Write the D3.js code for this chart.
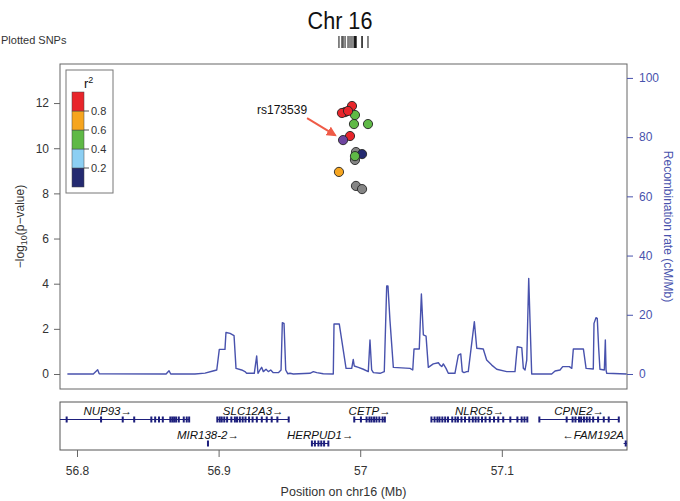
<!DOCTYPE html>
<html>
<head>
<meta charset="utf-8">
<script src="https://cdn.jsdelivr.net/npm/d3@7"></script>
<style>
  body { margin: 0; background: #fff; }
  svg { font-family: "Liberation Sans", Arial, Helvetica, sans-serif; }
</style>
</head>
<body>
<svg id="chart" width="680" height="501"></svg>
<script>
// ---- data ----
const chrom = "16";
const leadSnp = "rs173539";

// plotted SNPs (position Mb, -log10 p, r2 ; null r2 = no LD info)
const snpPos  = [56.9970, 56.9963, 56.9970, 57.0013, 56.9850, 57.0013, 56.9963, 56.9956, 57.0055, 56.9963,
                 56.9928, 56.9871, 56.9893, 56.9914, 56.9942, 56.9879];
const snpLogP = [9.83, 9.48, 8.33, 9.74, 8.95, 8.19, 9.65, 11.07, 11.07, 11.47,
                 10.54, 11.56, 11.60, 11.65, 11.87, 10.36];
const snpR2   = [null, null, null, 0.1, 0.7, null, 0.45, 0.45, 0.5, 0.5,
                 0.85, 0.9, 0.85, 0.95, 0.9, 1];
const leadIndex = 15;

// recombination rate (cM/Mb)
const recombPos = [56.7932, 56.8115, 56.8146, 56.8157, 56.8629, 56.8650, 56.8662, 56.8833, 56.8904, 56.8960,
  56.8987, 56.9005, 56.9045, 56.9052, 56.9081, 56.9109, 56.9123, 56.9163, 56.9186, 56.9198,
  56.9252, 56.9269, 56.9278, 56.9292, 56.9304, 56.9316, 56.9335, 56.9351, 56.9368, 56.9386,
  56.9422, 56.9441, 56.9450, 56.9462, 56.9474, 56.9488, 56.9504, 56.9528, 56.9645, 56.9669,
  56.9693, 56.9739, 56.9810, 56.9815, 56.9852, 56.9900, 56.9940, 56.9951, 56.9958, 56.9987,
  57.0022, 57.0057, 57.0069, 57.0081, 57.0093, 57.0140, 57.0170, 57.0187, 57.0196, 57.0210,
  57.0234, 57.0352, 57.0371, 57.0380, 57.0417, 57.0432, 57.0446, 57.0465, 57.0481, 57.0516,
  57.0552, 57.0564, 57.0576, 57.0587, 57.0606, 57.0622, 57.0669, 57.0693, 57.0710, 57.0721,
  57.0733, 57.0752, 57.0763, 57.0806, 57.0823, 57.0869, 57.0893, 57.0929, 57.0964, 57.1035,
  57.1093, 57.1109, 57.1141, 57.1152, 57.1164, 57.1176, 57.1190, 57.1199, 57.1211, 57.1352,
  57.1376, 57.1411, 57.1430, 57.1477, 57.1494, 57.1505, 57.1576, 57.1595, 57.1646, 57.1651,
  57.1665, 57.1674, 57.1684, 57.1693, 57.1724, 57.1731, 57.1736, 57.1741, 57.1882];
const recombRate = [0, 0, 1.4, 0.1, 0, 1.1, 0, 0, 0.3, 1.0,
  1.35, 8.3, 8.3, 14.0, 13.7, 12.95, 1.9, 1.35, 0.8, 0.23,
  0.23, 6.1, 0.23, 1.35, 2.25, 0.8, 1.6, 0.8, 1.35, 0.45,
  0.45, 1.35, 17.3, 17.1, 1.35, 0.1, 0.23, 0, 0.23, 0.8,
  0.45, 0.1, 0, 16.9, 16.9, 1.9, 1.9, 4.9, 2.7, 2.25,
  1.6, 0.8, 11.5, 1.35, 0.45, 0.23, 0.8, 29.7, 29.7, 18.2,
  2.25, 1.9, 1.35, 8.45, 8.45, 27.0, 13.2, 12.8, 2.25, 3.4,
  3.8, 3.0, 2.5, 3.4, 1.9, 0.23, 0.23, 6.4, 6.8, 0.8,
  0.45, 0.8, 0.8, 17.7, 8.7, 8.45, 4.7, 3.0, 1.6, 0.8,
  0.8, 9.2, 8.9, 1.9, 1.35, 4.7, 32.3, 18.2, 0, 0,
  1.0, 1.35, 2.5, 2.5, 1.9, 8.45, 8.45, 1.9, 1.7, 17.1,
  19.0, 18.8, 8.7, 1.6, 1.35, 11.5, 1.35, 0.23, 0];

// genes: name, start, end, strand, row
const geneNames  = ["NUP93", "SLC12A3", "CETP", "NLRC5", "CPNE2", "MIR138-2", "HERPUD1", "FAM192A"];
const geneStart  = [56.7640, 56.8991, 56.9958, 57.0503, 57.1265, 56.8924, 56.9659, 57.1860];
const geneEnd    = [56.8794, 56.9498, 57.0176, 57.1183, 57.1828, 56.8926, 56.9777, 57.2190];
const geneStrand = ["+", "+", "+", "+", "+", "+", "+", "-"];
const geneRow    = [0, 0, 0, 0, 0, 1, 1, 1];
const geneExons  = [
  [56.7927, 56.8170, 56.8323, 56.8404, 56.8525, 56.8552, 56.8579, 56.8606, 56.8659, 56.8673, 56.8686, 56.8700, 56.8719, 56.8754, 56.8775, 56.8792],
  [56.8991, 56.9008, 56.9022, 56.9040, 56.9060, 56.9090, 56.9115, 56.9130, 56.9150, 56.9170, 56.9190, 56.9215, 56.9240, 56.9270, 56.9305, 56.9340, 56.9375, 56.9415, 56.9495],
  [56.9958, 57.0005, 57.0045, 57.0065, 57.0080, 57.0098, 57.0115, 57.0135, 57.0158, 57.0174],
  [57.0503, 57.0525, 57.0545, 57.0560, 57.0580, 57.0600, 57.0620, 57.0650, 57.0672, 57.0690, 57.0715, 57.0740,
   57.0770, 57.0795, 57.0815, 57.0835, 57.0860, 57.0885, 57.0915, 57.0945, 57.0975, 57.1010, 57.1060, 57.1110, 57.1140, 57.1160, 57.1180],
  [57.1265, 57.1458, 57.1500, 57.1520, 57.1545, 57.1560, 57.1580, 57.1600, 57.1620, 57.1645, 57.1680, 57.1720, 57.1755, 57.1826],
  [56.8925],
  [56.9659, 56.9680, 56.9705, 56.9725, 56.9745, 56.9775],
  [57.1875]
];

// LD legend
const ldBreaks = [0, 0.2, 0.4, 0.6, 0.8, 1];
const ldColors = ["#242a70", "#8ccff3", "#5fb946", "#f6a51f", "#e8252b"];
const leadColor = "#6e45a0";
const noLdColor = "#858585";

// axis ticks
const xTicks = [56.8, 56.9, 57, 57.1];
const yTicks = [0, 2, 4, 6, 8, 10, 12];
const recombTicks = [0, 20, 40, 60, 80, 100];
const legendTicks = [0.2, 0.4, 0.6, 0.8];

// ---- layout ----
const svg = d3.select("#chart");
const plot = { left: 60, right: 627, top: 64, bottom: 389 };
const genePanel = { top: 402, bottom: 450 };
const recombColor = "#4852ad";
const textColor = "#333";

let x = d3.scaleLinear().domain([56.788, 57.1884]).range([plot.left, plot.right]);
let yLeft = d3.scaleLinear().domain([-0.664, 13.73]).range([plot.bottom, plot.top]);
let yRight = d3.scaleLinear().domain([-5.07, 104.7]).range([plot.bottom, plot.top]);

function ldColor(r2, i) {
    if (i === leadIndex) return leadColor;
    if (r2 === null) return noLdColor;
    let k = d3.bisectRight(ldBreaks, r2) - 1;
    return ldColors[Math.min(k, ldColors.length - 1)];
}

let defs = svg.append("defs");
defs.append("clipPath").attr("id", "plotClip").append("rect")
    .attr("x", plot.left).attr("y", plot.top)
    .attr("width", plot.right - plot.left).attr("height", plot.bottom - plot.top);
defs.append("clipPath").attr("id", "geneClip").append("rect")
    .attr("x", plot.left).attr("y", genePanel.top)
    .attr("width", plot.right - plot.left).attr("height", genePanel.bottom - genePanel.top);
defs.append("marker").attr("id", "arrowHead")
    .attr("viewBox", "0 0 10 10").attr("refX", 8).attr("refY", 5)
    .attr("markerWidth", 5).attr("markerHeight", 5).attr("orient", "auto")
    .append("path").attr("d", "M0,0 L10,5 L0,10 z").attr("fill", "#ef5b47");

// title
svg.append("text").attr("x", 340).attr("y", 29).attr("text-anchor", "middle")
    .attr("font-size", 24).attr("fill", "#111")
    .attr("transform", "translate(340,0) scale(0.9,1) translate(-340,0)")
    .text("Chr " + chrom);

svg.append("text").attr("x", 1).attr("y", 44).attr("font-size", 11).attr("fill", textColor)
    .text("Plotted SNPs");

// rug of plotted SNPs
svg.append("g").selectAll("line").data(snpPos).enter().append("line")
    .attr("x1", d => x(d)).attr("x2", d => x(d))
    .attr("y1", 36).attr("y2", 48)
    .attr("stroke", "#111").attr("stroke-width", 1);

// ---- main panel ----
let g = svg.append("g");

// recombination line
let line = d3.line().x(d => x(d[0])).y(d => yRight(d[1]));
g.append("path")
    .datum(recombPos.map((p, i) => [p, recombRate[i]]))
    .attr("clip-path", "url(#plotClip)")
    .attr("d", line).attr("fill", "none")
    .attr("stroke", recombColor).attr("stroke-width", 1.4)
    .attr("stroke-linejoin", "round");

// box
g.append("rect").attr("x", plot.left).attr("y", plot.top)
    .attr("width", plot.right - plot.left).attr("height", plot.bottom - plot.top)
    .attr("fill", "none").attr("stroke", "#666").attr("stroke-width", 1);

// left axis
let axL = g.append("g").attr("transform", "translate(" + plot.left + ",0)")
    .call(d3.axisLeft(yLeft).tickValues(yTicks).tickSize(6).tickPadding(5));
axL.select(".domain").remove();
axL.selectAll(".tick line").attr("stroke", "#666");
axL.selectAll(".tick text").attr("font-size", 12).attr("fill", textColor)
    .attr("font-family", "Liberation Sans, Arial, sans-serif");

// right axis
let axR = g.append("g").attr("transform", "translate(" + plot.right + ",0)")
    .call(d3.axisRight(yRight).tickValues(recombTicks).tickSize(6).tickPadding(6));
axR.select(".domain").remove();
axR.selectAll(".tick line").attr("stroke", recombColor);
axR.selectAll(".tick text").attr("font-size", 12).attr("fill", recombColor)
    .attr("font-family", "Liberation Sans, Arial, sans-serif");

// axis titles
let yMid = (plot.top + plot.bottom) / 2;
let ylab = svg.append("text").attr("transform", "translate(24," + yMid + ") rotate(-90)")
    .attr("text-anchor", "middle").attr("font-size", 12).attr("fill", textColor);
ylab.append("tspan").text("\u2212log");
ylab.append("tspan").attr("dy", 3).attr("font-size", 9).text("10");
ylab.append("tspan").attr("dy", -3).text("(p\u2212value)");

svg.append("text").attr("transform", "translate(664," + yMid + ") rotate(90)")
    .attr("text-anchor", "middle").attr("font-size", 12).attr("fill", recombColor)
    .text("Recombination rate (cM/Mb)");

// SNP points: no-LD first, then by r2, lead on top
let snps = snpPos.map((p, i) => ({ pos: p, logp: snpLogP[i], r2: snpR2[i], i: i }));
snps.sort((a, b) => {
    let ka = a.i === leadIndex ? 2 : (a.r2 === null ? -1 : a.r2);
    let kb = b.i === leadIndex ? 2 : (b.r2 === null ? -1 : b.r2);
    return ka - kb;
});
g.append("g").selectAll("circle").data(snps).enter().append("circle")
    .attr("cx", d => x(d.pos)).attr("cy", d => yLeft(d.logp))
    .attr("r", 4.6)
    .attr("fill", d => ldColor(d.r2, d.i))
    .attr("stroke", "#222").attr("stroke-width", 0.9);

// lead SNP annotation
let lx = x(snpPos[leadIndex]), ly = yLeft(snpLogP[leadIndex]);
g.append("line")
    .attr("x1", lx - 36).attr("y1", ly - 22)
    .attr("x2", lx - 8).attr("y2", ly - 5)
    .attr("stroke", "#ef5b47").attr("stroke-width", 2)
    .attr("marker-end", "url(#arrowHead)");
g.append("text").attr("x", lx - 36).attr("y", ly - 26).attr("text-anchor", "end")
    .attr("font-size", 12).attr("fill", "#111").text(leadSnp);

// LD legend
let lg = svg.append("g");
lg.append("rect").attr("x", 66).attr("y", 70).attr("width", 47).attr("height", 123)
    .attr("fill", "#fff").attr("stroke", "#777");
let ly2 = d3.scaleLinear().domain([0, 1]).range([187, 92]);
lg.selectAll("rect.band").data(ldColors).enter().append("rect")
    .attr("class", "band")
    .attr("x", 72).attr("width", 12)
    .attr("y", (d, i) => ly2(ldBreaks[i + 1]))
    .attr("height", (d, i) => ly2(ldBreaks[i]) - ly2(ldBreaks[i + 1]))
    .attr("fill", d => d).attr("stroke", "#444").attr("stroke-width", 0.5);
lg.selectAll("line.tk").data(legendTicks).enter().append("line")
    .attr("class", "tk")
    .attr("x1", 84).attr("x2", 89).attr("y1", d => ly2(d)).attr("y2", d => ly2(d))
    .attr("stroke", "#555");
lg.selectAll("text.tk").data(legendTicks).enter().append("text")
    .attr("class", "tk")
    .attr("x", 91).attr("y", d => ly2(d)).attr("dy", "0.35em")
    .attr("font-size", 11).attr("fill", textColor).text(d => d.toFixed(1));
let r2t = lg.append("text").attr("x", 84).attr("y", 88).attr("font-size", 13).attr("fill", "#111");
r2t.append("tspan").text("r");
r2t.append("tspan").attr("dy", -5).attr("font-size", 9).text("2");

// ---- gene panel ----
let gp = svg.append("g");
gp.append("rect").attr("x", plot.left).attr("y", genePanel.top)
    .attr("width", plot.right - plot.left).attr("height", genePanel.bottom - genePanel.top)
    .attr("fill", "none").attr("stroke", "#555");

const rowLineY = [419.5, 443.5];
const rowLabelY = [414.5, 439];
const geneColor = "#1d1f7c";

let genes = geneNames.map((n, i) => ({
    name: n, start: geneStart[i], end: geneEnd[i], strand: geneStrand[i],
    row: geneRow[i], exons: geneExons[i]
}));

let gclip = gp.append("g").attr("clip-path", "url(#geneClip)");
gclip.selectAll("line.gene").data(genes).enter().append("line")
    .attr("class", "gene")
    .attr("x1", d => x(d.start)).attr("x2", d => x(d.end))
    .attr("y1", d => rowLineY[d.row]).attr("y2", d => rowLineY[d.row])
    .attr("stroke", geneColor).attr("stroke-width", 1);
genes.forEach(function (gd) {
    gclip.selectAll(null).data(gd.exons).enter().append("rect")
        .attr("x", d => x(d) - 1).attr("width", 2)
        .attr("y", rowLineY[gd.row] - 3).attr("height", 6)
        .attr("fill", geneColor);
});

gp.selectAll("text.gene").data(genes).enter().append("text")
    .attr("class", "gene")
    .attr("font-size", 11.5).attr("font-style", "italic").attr("fill", "#111")
    .attr("y", d => rowLabelY[d.row])
    .text(d => d.strand === "+" ? d.name + "\u2192" : "\u2190" + d.name)
    .each(function (d) {
        let w = this.getComputedTextLength();
        let cx = x((d.start + d.end) / 2);
        cx = Math.max(plot.left + 3 + w / 2, Math.min(plot.right - 3 - w / 2, cx));
        d3.select(this).attr("x", cx).attr("text-anchor", "middle");
    });

// x axis
let axB = svg.append("g").attr("transform", "translate(0," + genePanel.bottom + ")")
    .call(d3.axisBottom(x).tickValues(xTicks).tickSize(7).tickPadding(9).tickFormat(d => String(+d.toFixed(1))));
axB.select(".domain").remove();
axB.selectAll(".tick line").attr("stroke", "#666");
axB.selectAll(".tick text").attr("font-size", 12).attr("fill", textColor)
    .attr("font-family", "Liberation Sans, Arial, sans-serif");

svg.append("text").attr("x", (plot.left + plot.right) / 2).attr("y", 496)
    .attr("text-anchor", "middle").attr("font-size", 12.5).attr("fill", textColor)
    .text("Position on chr" + chrom + " (Mb)");
</script>
</body>
</html>
